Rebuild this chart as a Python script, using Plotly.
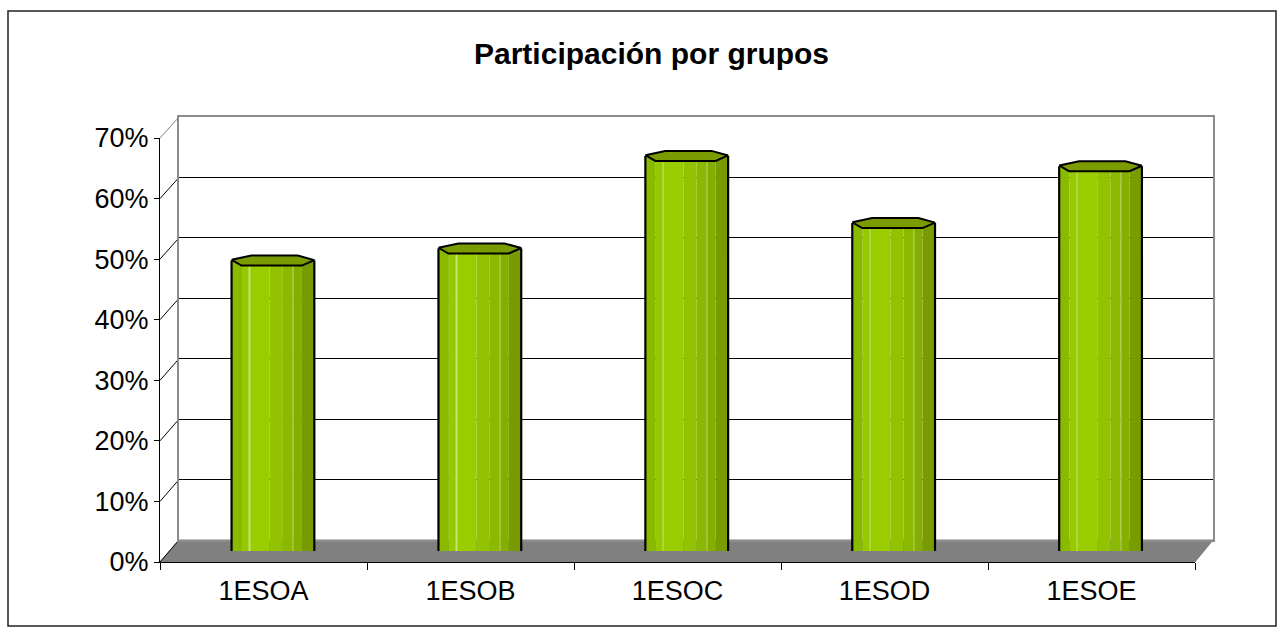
import plotly.graph_objects as go

# ---------------- data ----------------
categories = ["1ESOA", "1ESOB", "1ESOC", "1ESOD", "1ESOE"]
participation = [0.48, 0.50, 0.653, 0.542, 0.636]
y_ticks = [0.0, 0.1, 0.2, 0.3, 0.4, 0.5, 0.6, 0.7]
title_text = "Participación por grupos"

# ---------------- layout geometry (pixels) ----------------
W, H = 1279, 629
FRONT = dict(x0=160, x1=1195, y0=562, y1=138)   # front axis plane
BACK = dict(x0=179, x1=1213, y0=540, y1=117)    # back wall plane
MID = {k: (FRONT[k] + BACK[k]) / 2 for k in FRONT}  # bars plane
FONT = "Liberation Sans, Arial, sans-serif"
YMAX = 0.7


def fx(px):
    return px / W


def fy(py):
    return 1 - py / H


fig = go.Figure()

# ---------------- cylinder bars ----------------
bar_w = 0.40           # fraction of category slot
h = 0.0083             # half height of the cylinder's end caps (data units)
strips = [
    (0.000, 0.126, "#8ABA00"),
    (0.126, 0.215, "#97C900"),
    (0.215, 0.460, "#9ACD00"),
    (0.460, 0.620, "#93C300"),
    (0.620, 0.744, "#8BB800"),
    (0.744, 0.850, "#84AE00"),
    (0.850, 1.000, "#789C00"),
    (0.213, 0.219, "#C2E27A"),
    (0.742, 0.748, "#B4D46A"),
]
xs = list(range(len(categories)))
for f0, f1, col in strips:
    fig.add_trace(go.Bar(
        x=xs, y=[v + 0.3 * h for v in participation], base=-0.3 * h,
        offset=-bar_w / 2 + f0 * bar_w, width=(f1 - f0) * bar_w,
        marker=dict(color=col, line=dict(width=0)),
        xaxis="x3", yaxis="y3", hoverinfo="skip", showlegend=False))

for i, v in enumerate(participation):
    x0, x1 = i - bar_w / 2, i + bar_w / 2
    w = bar_w
    # bottom curved cap (front half)
    fig.add_trace(go.Scatter(
        x=[x0, x0 + 0.14 * w, x1 - 0.14 * w, x1, x0],
        y=[-0.3 * h, -h, -h, -0.3 * h, -0.3 * h],
        fill="toself", fillcolor="#8DBC00", mode="lines", line=dict(width=0),
        xaxis="x3", yaxis="y3", hoverinfo="skip", showlegend=False))
    # silhouette
    fig.add_trace(go.Scatter(
        x=[x0, x0, x0 + 0.14 * w, x1 - 0.14 * w, x1, x1],
        y=[v, -0.3 * h, -h, -h, -0.3 * h, v],
        mode="lines", line=dict(color="black", width=2.2),
        xaxis="x3", yaxis="y3", hoverinfo="skip", showlegend=False))
    # top cap
    fig.add_trace(go.Scatter(
        x=[x0, x0 + 0.24 * w, x1 - 0.20 * w, x1, x1 - 0.15 * w, x0 + 0.12 * w, x0],
        y=[v + 0.15 * h, v + h, v + h, v + 0.1 * h, v - h, v - h, v + 0.15 * h],
        fill="toself", fillcolor="#7A9C00", mode="lines",
        line=dict(color="black", width=2),
        xaxis="x3", yaxis="y3", hoverinfo="skip", showlegend=False))

# invisible anchors for the front and back axes
fig.add_trace(go.Scatter(x=categories, y=[0] * len(categories), mode="markers",
                         marker=dict(opacity=0), hoverinfo="skip", showlegend=False))
fig.add_trace(go.Scatter(x=[0.5], y=[0], mode="markers", marker=dict(opacity=0),
                         xaxis="x2", yaxis="y2", hoverinfo="skip", showlegend=False))

# ---------------- shapes: floor, diagonals, border ----------------
shapes = []
floor_path = "M {} {} L {} {} L {} {} L {} {} Z".format(
    fx(FRONT["x0"]), fy(FRONT["y0"]), fx(FRONT["x1"]), fy(FRONT["y0"]),
    fx(BACK["x1"]), fy(BACK["y0"]), fx(BACK["x0"]), fy(BACK["y0"]))
shapes.append(dict(type="path", path=floor_path, xref="paper", yref="paper",
                   fillcolor="#808080", line=dict(color="#808080", width=1), layer="below"))
for t in y_ticks:
    yf_ = FRONT["y0"] + (FRONT["y1"] - FRONT["y0"]) * t / YMAX
    yb_ = BACK["y0"] + (BACK["y1"] - BACK["y0"]) * t / YMAX
    shapes.append(dict(type="line", xref="paper", yref="paper",
                       x0=fx(FRONT["x0"]), y0=fy(yf_), x1=fx(BACK["x0"]), y1=fy(yb_),
                       line=dict(color="#808080" if t >= YMAX else "black", width=1),
                       layer="below"))
shapes.append(dict(type="rect", xref="paper", yref="paper",
                   x0=fx(8), y0=fy(11), x1=fx(1276), y1=fy(626),
                   line=dict(color="#222222", width=1.5), layer="above"))

fig.add_annotation(text="<b>" + title_text + "</b>", xref="paper", yref="paper",
                   x=fx(651), y=fy(54), xanchor="center", yanchor="middle",
                   showarrow=False, font=dict(family=FONT, size=30, color="black"))

fig.update_layout(
    template="none",
    width=W, height=H, margin=dict(l=0, r=0, t=0, b=0, pad=0),
    paper_bgcolor="white", plot_bgcolor="rgba(0,0,0,0)",
    barmode="overlay", showlegend=False, shapes=shapes,
    xaxis=dict(domain=[fx(FRONT["x0"]), fx(FRONT["x1"])], type="category",
               categoryorder="array", categoryarray=categories,
               range=[-0.5, len(categories) - 0.5], tickson="boundaries",
               ticks="outside", ticklen=7, tickcolor="black", showline=True,
               linecolor="black", linewidth=1, showgrid=False, zeroline=False,
               automargin=False, ticklabelstandoff=5,
               tickfont=dict(family=FONT, size=27, color="black"), anchor="y"),
    yaxis=dict(domain=[fy(FRONT["y0"]), fy(FRONT["y1"])], range=[0, YMAX],
               tickmode="array", tickvals=y_ticks, tickformat=".0%",
               ticks="outside", ticklen=5, tickcolor="black", showline=True,
               linecolor="black", linewidth=1, showgrid=False, zeroline=False,
               automargin=False,
               tickfont=dict(family=FONT, size=27, color="black"), anchor="x"),
    xaxis2=dict(domain=[fx(BACK["x0"]), fx(BACK["x1"])], range=[0, 1],
                showticklabels=False, ticks="", showgrid=False, zeroline=False,
                showline=True, mirror=True, linecolor="#8C8C8C", linewidth=1.5,
                automargin=False, anchor="y2"),
    yaxis2=dict(domain=[fy(BACK["y0"]), fy(BACK["y1"])], range=[0, YMAX],
                tickmode="array", tickvals=y_ticks, showticklabels=False, ticks="",
                showgrid=True, gridcolor="black", gridwidth=1, zeroline=False,
                showline=True, mirror=True, linecolor="#8C8C8C", linewidth=1.5,
                automargin=False, anchor="x2"),
    xaxis3=dict(domain=[fx(MID["x0"]), fx(MID["x1"])], range=[-0.5, len(categories) - 0.5],
                visible=False, automargin=False, anchor="y3"),
    yaxis3=dict(domain=[fy(MID["y0"]), fy(MID["y1"])], range=[0, YMAX],
                visible=False, automargin=False, anchor="x3"),
)

fig.write_html("out.html", config={"displayModeBar": False},
               post_script="document.body.style.margin='0';document.body.style.overflow='hidden';")
